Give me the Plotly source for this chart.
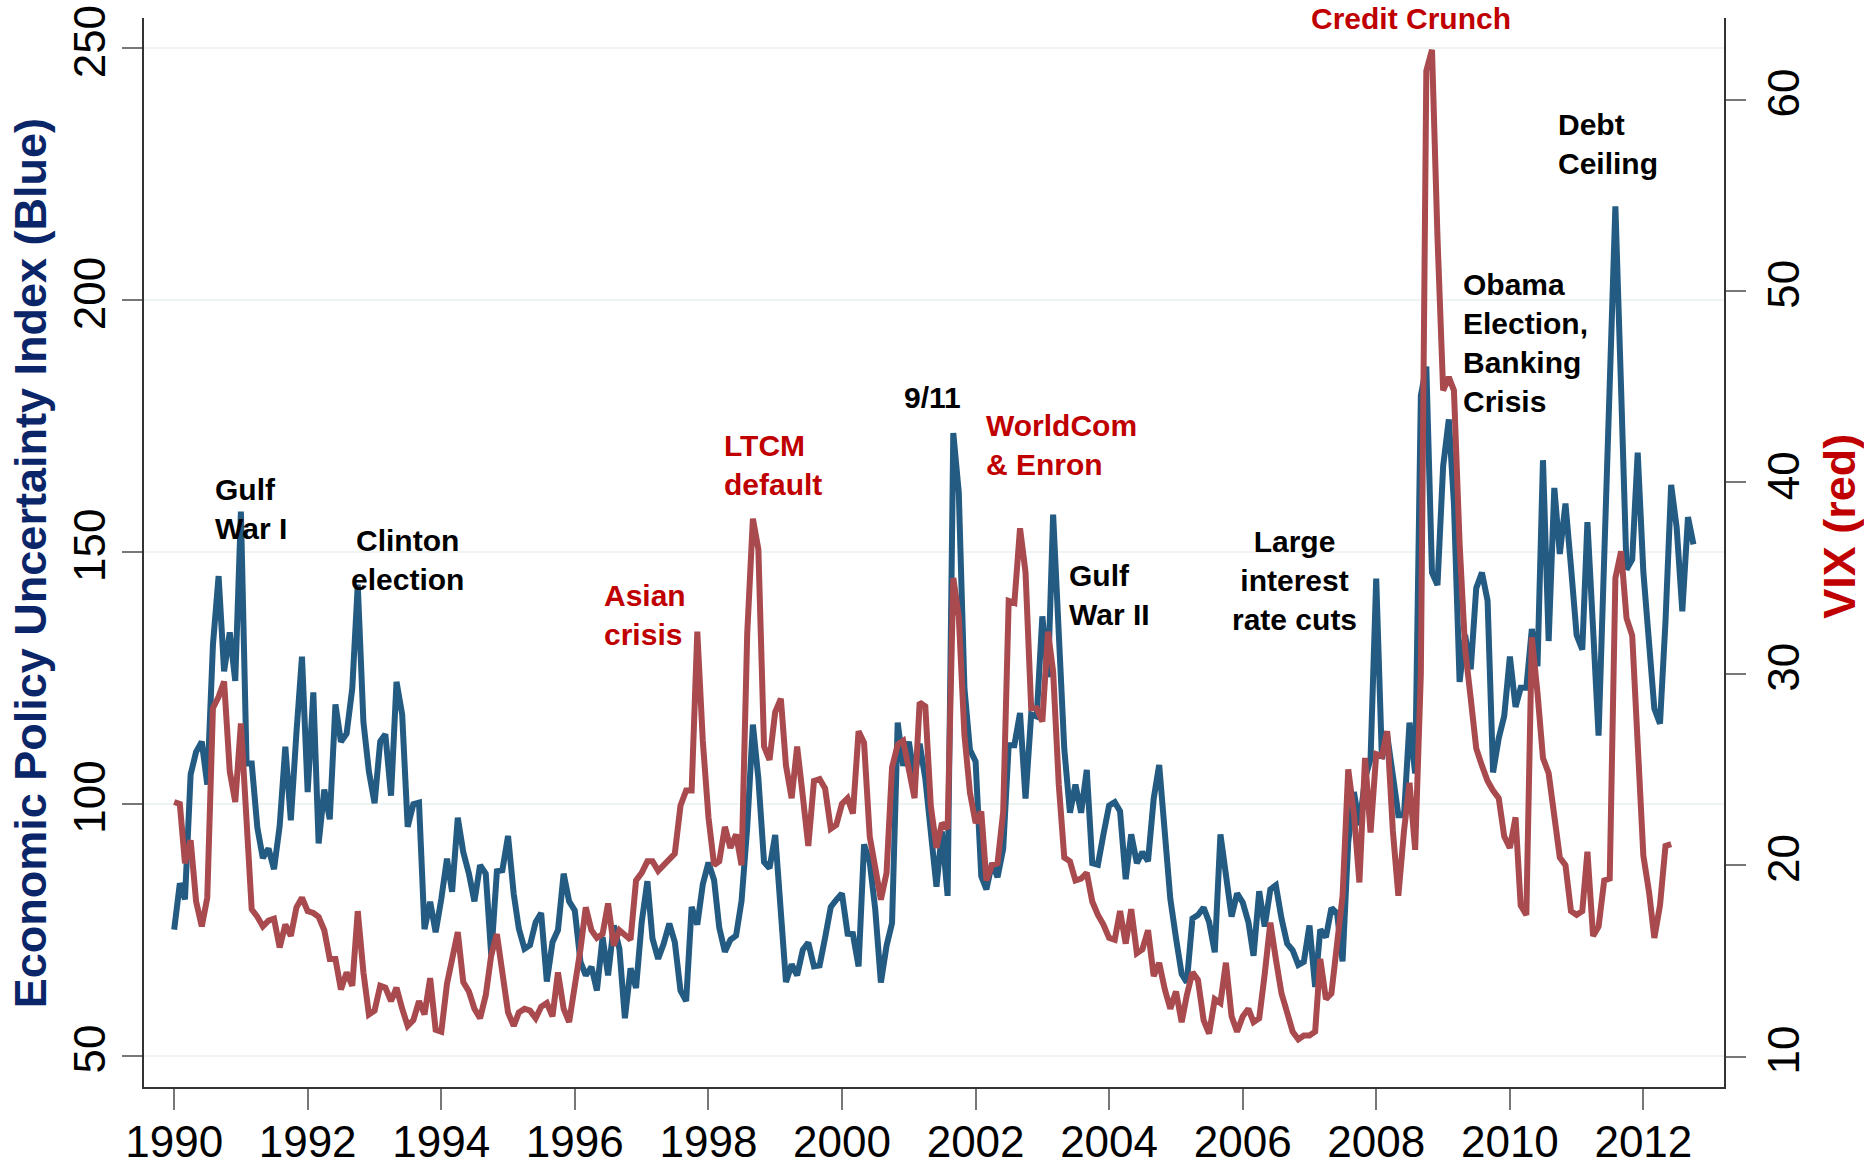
import pandas as pd
import plotly.graph_objects as go

# Monthly values, January 1990 onwards
epu_index = [
    75.0, 84.2, 81.0, 105.8, 110.3, 112.3, 103.8, 131.5, 145.2, 126.3, 134.0, 124.4,
    158.0, 108.0, 108.0, 95.2, 89.2, 91.1, 87.0, 95.6, 111.3, 96.7, 114.3, 129.2,
    102.3, 122.1, 92.1, 102.8, 96.9, 119.7, 112.3, 113.9, 122.9, 143.5, 116.2, 106.4,
    100.1, 112.4, 113.8, 101.6, 124.2, 117.7, 95.4, 99.9, 100.2, 75.1, 80.5, 74.5,
    81.1, 89.1, 82.5, 97.2, 90.4, 86.1, 80.6, 87.8, 86.1, 69.9, 86.6, 86.8,
    93.6, 82.1, 75.2, 71.2, 71.9, 76.5, 78.3, 64.7, 72.5, 74.9, 86.1, 80.6,
    78.8, 68.6, 65.9, 67.6, 62.9, 73.5, 65.9, 75.8, 71.2, 57.4, 67.3, 63.4,
    76.5, 84.6, 73.2, 69.2, 72.2, 76.2, 72.5, 62.9, 60.8, 79.5, 76.0, 84.0,
    88.3, 84.8, 75.4, 70.6, 73.0, 73.8, 80.7, 95.3, 115.7, 105.0, 88.4, 87.2,
    93.8, 79.1, 64.6, 68.1, 65.9, 71.0, 72.4, 67.7, 67.9, 73.4, 79.5, 80.9,
    82.2, 74.2, 74.1, 67.7, 91.9, 88.4, 79.1, 64.5, 71.8, 76.3, 116.1, 107.5,
    112.3, 105.0, 111.9, 105.0, 95.3, 83.5, 94.5, 81.7, 173.6, 161.8, 122.9, 110.7,
    108.4, 85.6, 83.0, 88.2, 85.4, 91.1, 111.6, 111.6, 118.0, 101.0, 117.7, 117.3,
    137.2, 125.1, 157.4, 135.7, 110.9, 98.2, 103.8, 98.2, 106.7, 88.2, 87.9, 93.9,
    99.6, 100.3, 98.5, 85.0, 93.9, 88.2, 90.4, 88.6, 101.0, 107.7, 95.3, 81.1,
    73.3, 66.2, 64.5, 77.2, 77.9, 79.4, 76.5, 70.5, 93.9, 86.8, 77.6, 82.2,
    80.4, 76.5, 69.8, 82.6, 75.6, 83.0, 83.8, 77.2, 72.2, 70.9, 68.0, 68.6,
    75.8, 63.6, 75.0, 73.5, 79.3, 78.2, 68.7, 92.4, 102.3, 95.7, 105.0, 108.9,
    144.7, 108.9, 113.6, 105.6, 97.7, 97.7, 116.1, 106.0, 181.0, 186.8, 145.9, 143.4,
    167.0, 176.3, 159.6, 124.2, 133.5, 126.7, 142.8, 145.9, 140.3, 106.2, 113.0, 117.4,
    129.2, 119.2, 123.0, 123.0, 134.7, 127.3, 168.2, 132.3, 162.7, 149.6, 159.6, 147.1,
    133.5, 130.6, 155.9, 134.7, 113.5, 149.0, 184.0, 218.6, 182.6, 146.5, 148.5, 169.7,
    146.0, 130.3, 118.9, 115.9, 136.2, 163.3, 154.9, 138.2, 156.9, 151.5,
]

vix = [
    23.3, 23.2, 20.1, 21.3, 18.1, 16.8, 18.3, 28.2, 28.8, 29.6, 24.9, 23.3,
    27.4, 22.8, 17.7, 17.3, 16.8, 17.1, 17.2, 15.7, 16.9, 16.3, 17.8, 18.3,
    17.6, 17.5, 17.3, 16.6, 15.1, 15.1, 13.5, 14.4, 13.7, 17.6, 14.4, 12.2,
    12.4, 13.7, 13.6, 12.9, 13.6, 12.5, 11.6, 11.9, 12.9, 12.2, 14.1, 11.4,
    11.3, 13.8, 15.2, 16.5, 13.9, 13.4, 12.5, 12.0, 13.2, 15.3, 16.4, 14.1,
    12.3, 11.6, 12.3, 12.5, 12.4, 12.0, 12.6, 12.8, 12.1, 14.4, 12.5, 11.8,
    13.5, 15.6, 17.8, 16.6, 16.2, 16.4, 18.0, 15.8, 16.6, 16.4, 16.1, 19.2,
    19.6, 20.2, 20.2, 19.7, 20.0, 20.3, 20.6, 23.1, 23.9, 23.9, 32.2, 26.5,
    22.5, 20.0, 20.2, 22.0, 20.9, 21.6, 20.0, 32.1, 38.1, 36.5, 26.2, 25.5,
    28.0, 28.7, 25.2, 23.5, 26.2, 23.6, 21.0, 24.4, 24.5, 24.0, 21.9, 22.1,
    23.2, 23.5, 22.7, 27.0, 26.4, 21.5, 20.0, 18.2, 19.6, 25.1, 26.3, 26.5,
    25.0, 23.5, 28.5, 28.3, 23.1, 20.9, 22.2, 21.9, 35.0, 33.0, 26.8, 23.8,
    22.2, 22.8, 19.2, 20.0, 20.1, 22.8, 33.8, 33.7, 37.6, 35.3, 28.2, 28.2,
    27.5, 32.2, 30.1, 24.2, 20.4, 20.2, 19.2, 19.3, 19.6, 18.1, 17.4, 16.9,
    16.2, 16.1, 17.6, 15.9, 17.7, 15.4, 15.6, 16.6, 14.2, 14.9, 13.5, 12.5,
    13.4, 11.8, 13.2, 14.4, 14.0, 11.9, 11.2, 13.0, 12.8, 14.9, 12.1, 11.3,
    12.1, 12.5, 11.8, 12.0, 14.3, 17.0, 15.1, 13.3, 12.3, 11.3, 10.9, 11.1,
    11.1, 11.3, 15.1, 13.0, 13.3, 15.8, 18.4, 25.0, 22.7, 19.1, 25.6, 21.7,
    25.8, 25.7, 27.0, 21.8, 18.4, 21.8, 24.3, 20.8, 30.0, 61.5, 62.6, 52.8,
    44.8, 45.5, 44.8, 36.8, 31.3, 28.7, 26.1, 25.2, 24.4, 23.9, 23.5, 21.5,
    20.9, 22.5, 17.9, 17.4, 31.9, 29.0, 25.6, 24.8, 22.5, 20.4, 20.0, 17.6,
    17.4, 17.6, 20.7, 16.3, 16.8, 19.2, 19.3, 35.0, 36.4, 32.9, 32.0, 25.9,
    20.5, 18.6, 16.2, 17.9, 21.0, 21.1,
]

year_ticks = list(range(1990, 2013, 2))
epu_ticks = [50, 100, 150, 200, 250]
vix_ticks = [10, 20, 30, 40, 50, 60]

event_labels = [
    "Gulf<br>War I",
    "Clinton<br>election",
    "Asian<br>crisis",
    "LTCM<br>default",
    "9/11",
    "WorldCom<br>& Enron",
    "Gulf<br>War II",
    "Large<br>interest<br>rate cuts",
    "Credit Crunch",
    "Obama<br>Election,<br>Banking<br>Crisis",
    "Debt<br>Ceiling",
]

BLUE = "#235b83"
RED = "#a84a4e"
NAVY = "#0b2569"
LABEL_RED = "#c00000"
FONT = "Liberation Sans, Arial, sans-serif"

epu_dates = pd.date_range("1990-01-01", periods=len(epu_index), freq="MS")
vix_dates = pd.date_range("1990-01-01", periods=len(vix), freq="MS")

fig = go.Figure()
fig.add_trace(go.Scatter(x=epu_dates, y=epu_index, mode="lines",
                         line=dict(color=BLUE, width=6), name="EPU", yaxis="y"))
fig.add_trace(go.Scatter(x=vix_dates, y=vix, mode="lines",
                         line=dict(color=RED, width=6), name="VIX", yaxis="y2"))

# where each event label sits: (date, left-axis level, colour, anchor)
placements = [
    ("1990-08-02", 158.6, "black", "left"),
    ("1993-07-02", 148.3, "black", "center"),
    ("1996-05-28", 137.5, LABEL_RED, "left"),
    ("1998-03-16", 167.3, LABEL_RED, "left"),
    ("2001-05-08", 180.6, "black", "center"),
    ("2002-02-16", 171.3, LABEL_RED, "left"),
    ("2003-05-15", 141.5, "black", "left"),
    ("2006-10-12", 144.3, "black", "center"),
    ("2008-07-08", 255.9, LABEL_RED, "center"),
    ("2009-04-08", 191.5, "black", "left"),
    ("2010-09-09", 231.0, "black", "left"),
]
for text, (when, level, colour, anchor) in zip(event_labels, placements):
    fig.add_annotation(x=when, y=level, xref="x", yref="y", text=text,
                       showarrow=False, xanchor=anchor, yanchor="middle", align=anchor,
                       font=dict(family=FONT, size=30, color=colour, weight="bold"))

# axis titles as rotated annotations
fig.add_annotation(x=-0.0721, y=0.49, xref="paper", yref="paper", textangle=-90,
                   text="Economic Policy Uncertainty Index (Blue)", showarrow=False,
                   xanchor="center", yanchor="middle",
                   font=dict(family=FONT, size=45, color=NAVY, weight="bold"))
fig.add_annotation(x=1.0731, y=0.5245, xref="paper", yref="paper", textangle=-90,
                   text="VIX (red)", showarrow=False,
                   xanchor="center", yanchor="middle",
                   font=dict(family=FONT, size=45, color=LABEL_RED, weight="bold"))

axis_common = dict(ticks="outside", tickwidth=1.5, tickcolor="#777777",
                   showline=True, linecolor="#333333", linewidth=1.5,
                   zeroline=False, tickfont=dict(family=FONT, size=44, color="black"))

fig.update_layout(
    width=1864, height=1168,
    paper_bgcolor="white", plot_bgcolor="white",
    showlegend=False,
    margin=dict(l=144, r=139.5, t=18, b=80.5, autoexpand=False),
    xaxis=dict(type="date", range=["1989-07-20", "2013-03-17"],
               tickvals=[f"{y}-01-01" for y in year_ticks],
               ticktext=[str(y) for y in year_ticks],
               ticklen=21, ticklabelstandoff=-6, showgrid=False, **axis_common),
    yaxis=dict(range=[43.75, 256.0], tickvals=epu_ticks, tickangle=-90,
               ticklen=20, showgrid=True, gridcolor="#eef3f3", gridwidth=1.5,
               **axis_common),
    yaxis2=dict(range=[8.41, 64.26], tickvals=vix_ticks, tickangle=-90,
                overlaying="y", side="right", ticklen=20, showgrid=False,
                **axis_common),
)

fig.write_html("out.html", config={"displayModeBar": False},
               post_script="document.body.style.margin='0';")
